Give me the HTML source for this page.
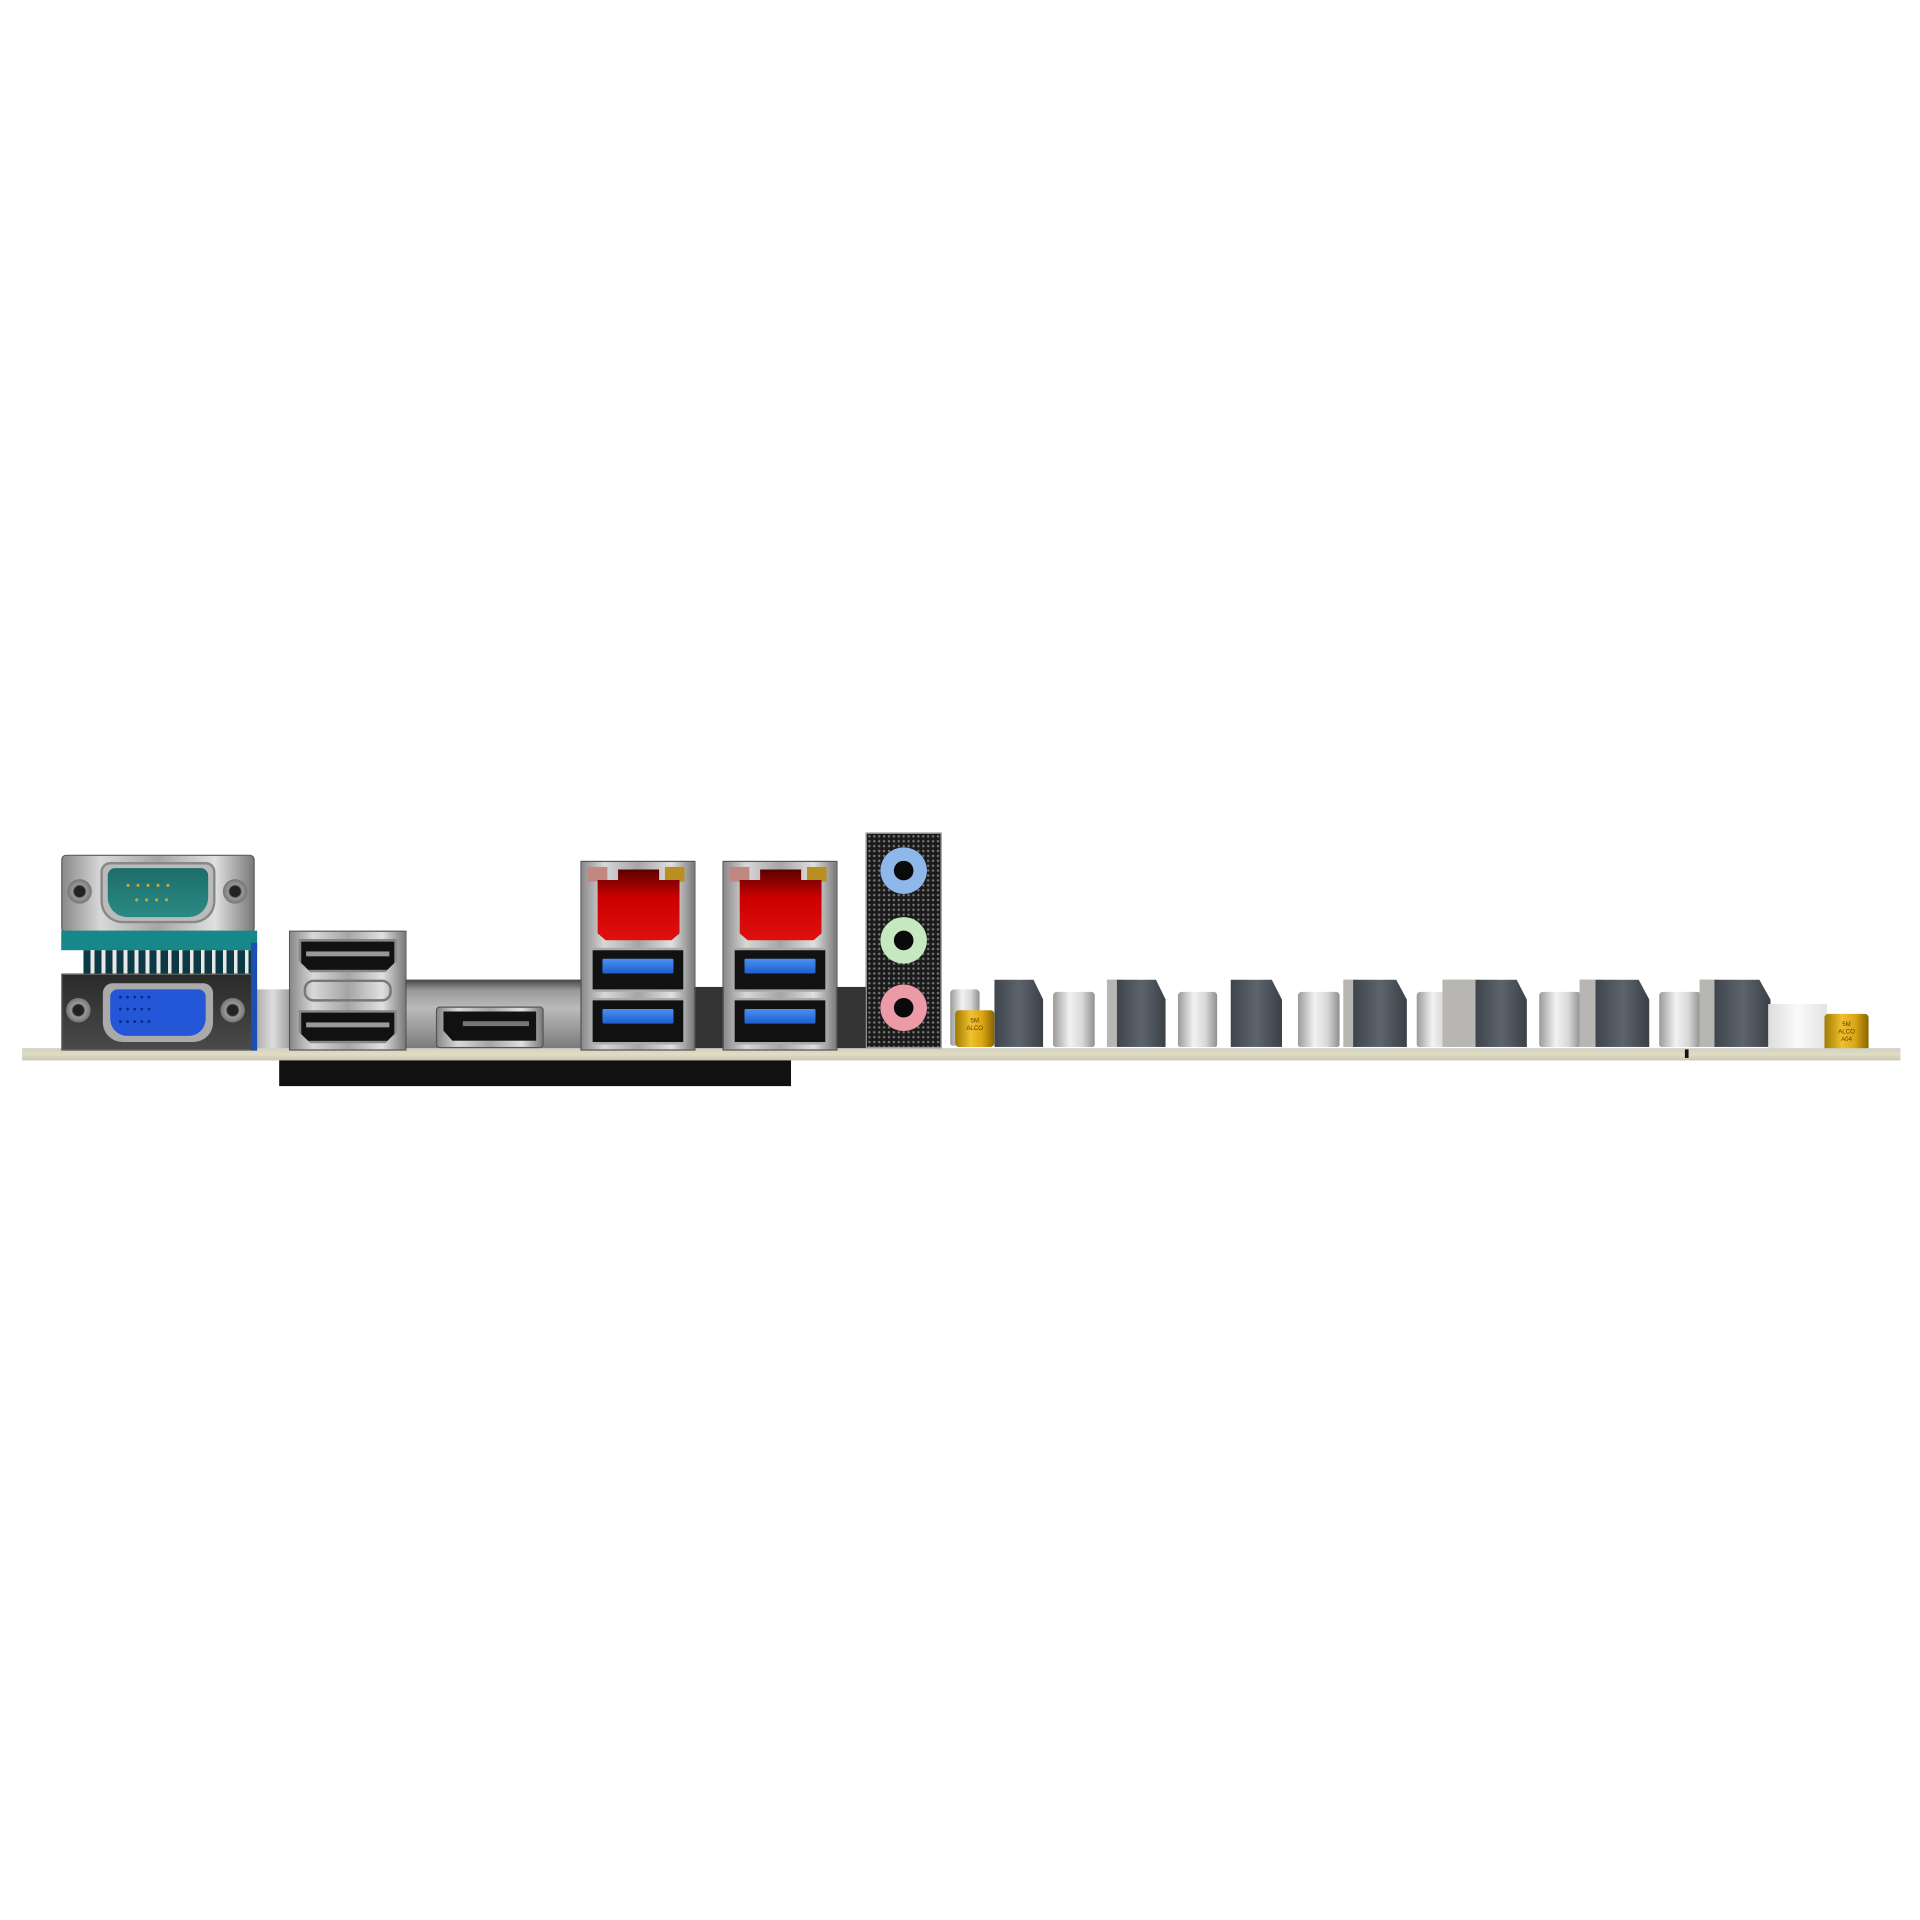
<!DOCTYPE html>
<html><head><meta charset="utf-8"><style>
html,body{margin:0;padding:0;background:#fff;width:1920px;height:1920px;overflow:hidden}
#w{position:absolute;left:0;top:0;width:1568px;height:1568px;transform:scale(1.22449);transform-origin:0 0}
.a{position:absolute;box-sizing:border-box}
.steel{background:linear-gradient(90deg,#8a8a8a,#d8d8d8 20%,#a5a5a5 50%,#e0e0e0 80%,#7a7a7a);border:1px solid #555}
.usb{background:#111;border:2px solid #aaa;border-radius:2px}
.usb i{position:absolute;left:8px;right:8px;top:7px;height:12px;background:linear-gradient(#4a8ff0,#1d5fd0);border-radius:1px}
.choke{background:linear-gradient(90deg,#3e444c,#5d646c 50%,#3b4047);clip-path:polygon(0 0,80% 0,100% 30%,100% 100%,0 100%)}
.cap{background:linear-gradient(90deg,#9a9a9a,#f2f2f2 40%,#d8d8d8 70%,#8f8f8f);border-radius:3px 3px 2px 2px}
.jack{width:38px;height:38px;border-radius:50%;left:12px}
.jack b{position:absolute;left:11px;top:11px;width:16px;height:16px;border-radius:50%;background:#0a0a0a}
.yc{background:linear-gradient(90deg,#a07a00,#f0c030 40%,#d9a514 70%,#8a6500);border-radius:3px;font:5px "Liberation Sans",sans-serif;color:#5a3d00;text-align:center;line-height:6px;padding-top:6px}
</style></head><body><div id="w">
<!-- black plate under -->
<div class="a" style="left:228px;top:864px;width:418px;height:23px;background:#111"></div>
<!-- background shield -->
<div class="a" style="left:330px;top:800px;width:150px;height:58px;background:linear-gradient(#444,#999 15%,#bbb 40%,#777)"></div>
<div class="a" style="left:566px;top:806px;width:30px;height:52px;background:#333"></div>
<div class="a" style="left:682px;top:806px;width:26px;height:52px;background:#333"></div>
<div class="a" style="left:208px;top:808px;width:30px;height:50px;background:linear-gradient(90deg,#aaa,#ddd,#999)"></div>
<!-- right components -->
<div class="a cap" style="left:776px;top:808px;width:24px;height:46px"></div>
<div class="a choke" style="left:812px;top:800px;width:40px;height:55px"></div>
<div class="a cap" style="left:860px;top:810px;width:34px;height:45px"></div>
<div class="a" style="left:904px;top:800px;width:14px;height:55px;background:#b8b6b2"></div>
<div class="a choke" style="left:912px;top:800px;width:40px;height:55px"></div>
<div class="a cap" style="left:962px;top:810px;width:32px;height:45px"></div>
<div class="a choke" style="left:1005px;top:800px;width:42px;height:55px"></div>
<div class="a cap" style="left:1060px;top:810px;width:34px;height:45px"></div>
<div class="a" style="left:1097px;top:800px;width:12px;height:55px;background:#b8b6b2"></div>
<div class="a choke" style="left:1105px;top:800px;width:44px;height:55px"></div>
<div class="a cap" style="left:1157px;top:810px;width:32px;height:45px"></div>
<div class="a" style="left:1178px;top:800px;width:30px;height:55px;background:#b8b6b2"></div>
<div class="a choke" style="left:1205px;top:800px;width:42px;height:55px"></div>
<div class="a cap" style="left:1257px;top:810px;width:34px;height:45px"></div>
<div class="a" style="left:1290px;top:800px;width:18px;height:55px;background:#b8b6b2"></div>
<div class="a choke" style="left:1303px;top:800px;width:44px;height:55px"></div>
<div class="a cap" style="left:1355px;top:810px;width:34px;height:45px"></div>
<div class="a" style="left:1388px;top:800px;width:16px;height:55px;background:#b8b6b2"></div>
<div class="a choke" style="left:1400px;top:800px;width:46px;height:55px"></div>
<div class="a" style="left:1444px;top:820px;width:48px;height:36px;background:linear-gradient(90deg,#ddd,#fafafa,#e2e2e2)"></div>
<div class="a yc" style="left:780px;top:825px;width:32px;height:30px">5M<br>ALCO</div>
<div class="a yc" style="left:1490px;top:828px;width:36px;height:30px">5M<br>ALCO<br>A04</div>
<!-- PCB -->
<div class="a" style="left:18px;top:856px;width:1534px;height:10px;background:linear-gradient(#cfd2c6,#e2dcc2 50%,#c8c6b4)"></div>
<div class="a" style="left:1376px;top:857px;width:3px;height:7px;background:#111"></div>
<!-- serial -->
<div class="a steel" style="left:50px;top:698px;width:158px;height:64px;border-radius:4px"></div>
<div class="a" style="left:82px;top:704px;width:94px;height:50px;border-radius:8px 8px 18px 18px;background:#bbb;border:2px solid #888"></div>
<div class="a" style="left:88px;top:709px;width:82px;height:40px;border-radius:6px 6px 16px 16px;background:linear-gradient(#1d6d6a,#2a8a84)"></div>
<div class="a" style="left:103px;top:718px;width:54px;font:bold 9px 'Liberation Sans',sans-serif;color:#c9a83a;letter-spacing:5px">•••••</div>
<div class="a" style="left:110px;top:730px;width:50px;font:bold 9px 'Liberation Sans',sans-serif;color:#c9a83a;letter-spacing:5px">••••</div>
<div class="a" style="left:55px;top:718px;width:20px;height:20px;border-radius:50%;background:radial-gradient(#222 30%,#999 40%,#555)"></div>
<div class="a" style="left:182px;top:718px;width:20px;height:20px;border-radius:50%;background:radial-gradient(#222 30%,#999 40%,#555)"></div>
<div class="a" style="left:50px;top:760px;width:160px;height:16px;background:#17878a"></div>
<div class="a" style="left:68px;top:776px;width:140px;height:20px;background:repeating-linear-gradient(90deg,#0b3a45 0 6px,#e8e8e8 6px 9px)"></div>
<!-- VGA -->
<div class="a steel" style="left:50px;top:795px;width:158px;height:63px;background:linear-gradient(#2a2a2a,#4a4a4a)"></div>
<div class="a" style="left:84px;top:803px;width:90px;height:48px;border-radius:8px 8px 16px 16px;background:#aaa"></div>
<div class="a" style="left:90px;top:808px;width:78px;height:38px;border-radius:6px 6px 14px 14px;background:#2456d8"></div>
<div class="a" style="left:97px;top:810px;width:66px;font:bold 8px 'Liberation Sans',sans-serif;color:#0a2a80;letter-spacing:3px;line-height:10px">•••••<br>•••••<br>•••••</div>
<div class="a" style="left:54px;top:815px;width:20px;height:20px;border-radius:50%;background:radial-gradient(#222 30%,#999 40%,#555)"></div>
<div class="a" style="left:180px;top:815px;width:20px;height:20px;border-radius:50%;background:radial-gradient(#222 30%,#999 40%,#555)"></div>
<div class="a" style="left:205px;top:770px;width:5px;height:88px;background:#1d4fb0"></div>
<!-- HDMI -->
<div class="a steel" style="left:236px;top:760px;width:96px;height:98px"></div>
<div class="a" style="left:244px;top:767px;width:80px;height:27px;background:#111;border:2px solid #888;clip-path:polygon(0 0,100% 0,100% 65%,88% 100%,12% 100%,0 65%)"></div>
<div class="a" style="left:250px;top:777px;width:68px;height:4px;background:#999"></div>
<div class="a" style="left:248px;top:800px;width:72px;height:18px;border:2px solid #777;border-radius:8px"></div>
<div class="a" style="left:244px;top:825px;width:80px;height:27px;background:#111;border:2px solid #888;clip-path:polygon(0 0,100% 0,100% 65%,88% 100%,12% 100%,0 65%)"></div>
<div class="a" style="left:250px;top:835px;width:68px;height:4px;background:#999"></div>
<!-- DP -->
<div class="a steel" style="left:356px;top:822px;width:88px;height:34px;border-radius:3px"></div>
<div class="a" style="left:362px;top:826px;width:76px;height:24px;background:#111;clip-path:polygon(0 0,100% 0,100% 100%,10% 100%,0 65%)"></div>
<div class="a" style="left:378px;top:834px;width:54px;height:4px;background:#777"></div>
<!-- LAN/USB stacks -->
<div class="a steel" style="left:474px;top:703px;width:94px;height:155px"></div>
<div class="a" style="left:480px;top:708px;width:16px;height:12px;background:#c08880"></div>
<div class="a" style="left:543px;top:708px;width:16px;height:12px;background:#b88f20"></div>
<div class="a" style="left:488px;top:710px;width:67px;height:58px;background:linear-gradient(#5a0000,#c00 40%,#e01010);clip-path:polygon(25% 0,75% 0,75% 15%,100% 15%,100% 90%,90% 100%,10% 100%,0 90%,0 15%,25% 15%)"></div>
<div class="a usb" style="left:482px;top:774px;width:78px;height:36px"><i></i></div>
<div class="a usb" style="left:482px;top:815px;width:78px;height:38px"><i></i></div>
<div class="a steel" style="left:590px;top:703px;width:94px;height:155px"></div>
<div class="a" style="left:596px;top:708px;width:16px;height:12px;background:#c08880"></div>
<div class="a" style="left:659px;top:708px;width:16px;height:12px;background:#b88f20"></div>
<div class="a" style="left:604px;top:710px;width:67px;height:58px;background:linear-gradient(#5a0000,#c00 40%,#e01010);clip-path:polygon(25% 0,75% 0,75% 15%,100% 15%,100% 90%,90% 100%,10% 100%,0 90%,0 15%,25% 15%)"></div>
<div class="a usb" style="left:598px;top:774px;width:78px;height:36px"><i></i></div>
<div class="a usb" style="left:598px;top:815px;width:78px;height:38px"><i></i></div>
<!-- audio -->
<div class="a" style="left:707px;top:680px;width:62px;height:176px;background:#1a1a1a radial-gradient(#777 0.8px,transparent 1.2px) 0 0/4px 4px;border:1px solid #999"></div>
<div class="a jack" style="left:719px;top:692px;background:#8fb8ea"><b></b></div>
<div class="a jack" style="left:719px;top:749px;background:#c6e8c0"><b></b></div>
<div class="a jack" style="left:719px;top:804px;background:#ec9aa8"><b></b></div>
</div></body></html>
